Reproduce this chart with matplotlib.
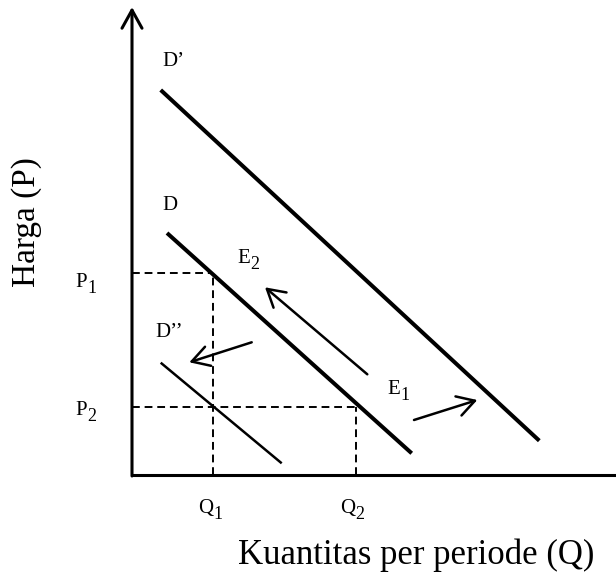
import matplotlib
matplotlib.use("Agg")
import matplotlib.pyplot as plt
from matplotlib.transforms import offset_copy

plt.rcParams["font.family"] = ["Liberation Serif", "DejaVu Serif"]

# ── data (Q on x, P on y; origin at the axis corner) ─────────────────────────
q_axis_end = 48.4
p_axis_end = 46.8

d1_q = [2.87, 40.73]    # D'
d1_p = [38.5, 3.43]
d0_q = [3.5, 27.97]     # D
d0_p = [24.2, 2.17]
d2_q = [2.87, 14.97]    # D''
d2_p = [11.23, 1.17]

q1, p1 = 8.1, 20.2
q2, p2 = 22.4, 6.8

# arrows: (tail, head)
arrow_e2 = ((23.53, 10.07), (13.3, 18.77))
arrow_e1 = ((28.2, 5.5), (34.53, 7.5))
arrow_d2 = ((11.97, 13.27), (5.73, 11.27))

# ── figure ───────────────────────────────────────────────────────────────────
fig = plt.figure(figsize=(6.16, 5.75), dpi=100)
ax = fig.add_axes([0, 0, 1, 1])
ax.set_xlim(-13.2, 48.4)
ax.set_ylim(-10.0, 47.5)
ax.axis("off")
renderer = fig.canvas.get_renderer()

# axes
ax.plot([0, q_axis_end], [0, 0], color="black", lw=2.2, solid_capstyle="butt")
ax.annotate("", xy=(0, p_axis_end), xytext=(0, -0.1),
            arrowprops=dict(arrowstyle="->,head_length=0.65,head_width=0.36",
                            lw=2.2, color="black", mutation_scale=20,
                            shrinkA=0, shrinkB=0))

# demand curves
ax.plot(d1_q, d1_p, color="black", lw=2.9, solid_capstyle="butt")
ax.plot(d0_q, d0_p, color="black", lw=2.9, solid_capstyle="butt")
ax.plot(d2_q, d2_p, color="black", lw=1.8, solid_capstyle="butt")

# dashed guides
dash = dict(color="black", lw=1.4, linestyle=(0, (4, 2.5)))
ax.plot([0, q1], [p1, p1], **dash)
ax.plot([q1, q1], [0, p1], **dash)
ax.plot([0, q2], [p2, p2], **dash)
ax.plot([q2, q2], [0, p2], **dash)

# shift arrows
for tail, head in (arrow_e2, arrow_e1, arrow_d2):
    ax.annotate("", xy=head, xytext=tail,
                arrowprops=dict(arrowstyle="->,head_length=0.62,head_width=0.36",
                                lw=1.8, color="black", mutation_scale=20,
                                shrinkA=0, shrinkB=0))


def sub_label(x, y, main, sub, fs=15, sub_fs=13):
    t = ax.text(x, y, main, fontsize=fs, va="baseline")
    w = t.get_window_extent(renderer).width * 72 / fig.dpi
    tr = offset_copy(ax.transData, fig=fig, x=w + 0.3, y=-4, units="points")
    ax.text(x, y, sub, fontsize=sub_fs, va="baseline", transform=tr)


# labels
fs = 15
ax.text(3.0, 40.9, "D’", fontsize=fs)
ax.text(3.0, 26.5, "D", fontsize=fs)
ax.text(2.3, 13.8, "D’’", fontsize=fs)
sub_label(10.5, 21.2, "E", "2")
sub_label(25.5, 8.1, "E", "1")
sub_label(-5.7, 18.8, "P", "1")
sub_label(-5.7, 6.0, "P", "2")
sub_label(6.6, -3.8, "Q", "1")
sub_label(20.8, -3.8, "Q", "2")

ax.text(-10.5, 25.3, "Harga (P)", fontsize=24, rotation=90,
        ha="center", va="center")
ax.text(28.4, -8.0, "Kuantitas per periode (Q)", fontsize=25,
        ha="center", va="center")

plt.savefig("out.png", dpi=100)
plt.close()
